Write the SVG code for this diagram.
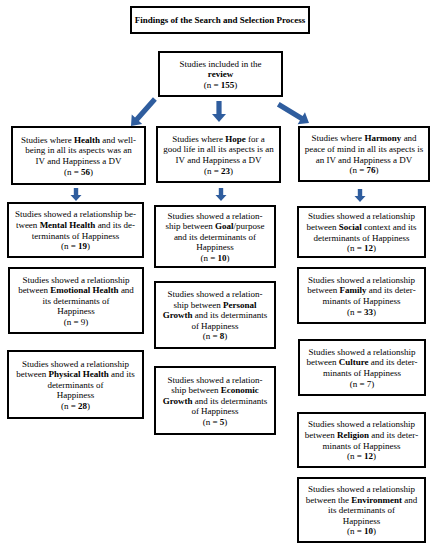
<svg xmlns="http://www.w3.org/2000/svg" width="436" height="550" viewBox="0 0 436 550">
<style>
.box{fill:#fff;stroke:#000;stroke-width:2}
.t{font-family:"Liberation Serif","Times New Roman",serif;font-size:9px;fill:#000;text-anchor:middle}
.b{font-weight:bold}
.arr{fill:#2f5d9e}
</style>
<defs>
<path id="arrBig" d="M-2.6,-36 H2.6 V-9 H7 L0,0 L-7,-9 H-2.6 Z"/>
<path id="arrMid" d="M-2.6,-21 H2.6 V-8 H7 L0,0 L-7,-8 H-2.6 Z"/>
<path id="arrSm" d="M-2.2,-13 H2.2 V-6 H5.5 L0,0 L-5.5,-6 H-2.2 Z"/>
</defs>
<rect width="436" height="550" fill="#fff"/>
<g id="connectors" class="arr">
<use href="#arrBig" transform="translate(131,126) rotate(41.6)"/>
<use href="#arrMid" transform="translate(219,122)"/>
<use href="#arrBig" transform="translate(309,123) rotate(-58.6)"/>
<use href="#arrSm" transform="translate(76,201)"/>
<use href="#arrSm" transform="translate(221,201)"/>
<use href="#arrSm" transform="translate(360,202)"/>
</g>
<g id="title">
<rect class="box" x="131" y="7" width="178" height="26" stroke-width="2.5"/>
<text class="t b" x="220" y="23" font-size="8.5">Findings of the Search and Selection Process</text>
</g>
<g id="review">
<rect class="box" x="159" y="52" width="123" height="44"/>
<text class="t" x="220.5" y="66.6">Studies included in the</text>
<text class="t b" x="220.5" y="77.2">review</text>
<text class="t" x="220.5" y="87.8">(n = <tspan class="b">155</tspan>)</text>
</g>
<g id="health">
<rect class="box" x="12" y="127" width="133" height="57"/>
<text class="t" x="78.5" y="142.8">Studies where <tspan class="b">Health</tspan> and well-</text>
<text class="t" x="78.5" y="153.4">being in all its aspects was an</text>
<text class="t" x="78.5" y="164">IV and Happiness a DV</text>
<text class="t" x="78.5" y="174.6">(n = <tspan class="b">56</tspan>)</text>
</g>
<g id="hope">
<rect class="box" x="157" y="127" width="123" height="55"/>
<text class="t" x="218.5" y="141.8">Studies where <tspan class="b">Hope</tspan> for a</text>
<text class="t" x="218.5" y="152.4">good life in all its aspects is an</text>
<text class="t" x="218.5" y="163">IV and Happiness a DV</text>
<text class="t" x="218.5" y="173.6">(n = <tspan class="b">23</tspan>)</text>
</g>
<g id="harmony">
<rect class="box" x="299" y="127" width="130" height="54"/>
<text class="t" x="364" y="141.3">Studies where <tspan class="b">Harmony</tspan> and</text>
<text class="t" x="364" y="151.9">peace of mind in all its aspects is</text>
<text class="t" x="364" y="162.5">an IV and Happiness a DV</text>
<text class="t" x="364" y="173.1">(n = <tspan class="b">76</tspan>)</text>
</g>
<g id="mental">
<rect class="box" x="8" y="203" width="135" height="54"/>
<text class="t" x="75.5" y="217.3">Studies showed a relationship be-</text>
<text class="t" x="75.5" y="227.9">tween <tspan class="b">Mental Health</tspan> and its de-</text>
<text class="t" x="75.5" y="238.5">terminants of Happiness</text>
<text class="t" x="75.5" y="249.1">(n = <tspan class="b">19</tspan>)</text>
</g>
<g id="emotional">
<rect class="box" x="9" y="268" width="134" height="65"/>
<text class="t" x="76" y="282.5">Studies showed a relationship</text>
<text class="t" x="76" y="293.1">between <tspan class="b">Emotional Health</tspan> and</text>
<text class="t" x="76" y="303.7">its determinants of</text>
<text class="t" x="76" y="314.3">Happiness</text>
<text class="t" x="76" y="324.9">(n = 9)</text>
</g>
<g id="physical">
<rect class="box" x="8" y="351" width="135" height="67"/>
<text class="t" x="75.5" y="366.5">Studies showed a relationship</text>
<text class="t" x="75.5" y="377.1">between <tspan class="b">Physical Health</tspan> and its</text>
<text class="t" x="75.5" y="387.7">determinants of</text>
<text class="t" x="75.5" y="398.3">Happiness</text>
<text class="t" x="75.5" y="408.9">(n = <tspan class="b">28</tspan>)</text>
</g>
<g id="goal">
<rect class="box" x="155" y="206" width="120" height="61"/>
<text class="t" x="215" y="218.5">Studies showed a relation-</text>
<text class="t" x="215" y="229.1">ship between <tspan class="b">Goal</tspan>/purpose</text>
<text class="t" x="215" y="239.7">and its determinants of</text>
<text class="t" x="215" y="250.3">Happiness</text>
<text class="t" x="215" y="260.9">(n = <tspan class="b">10</tspan>)</text>
</g>
<g id="personal">
<rect class="box" x="155" y="282" width="120" height="66"/>
<text class="t" x="215" y="297">Studies showed a relation-</text>
<text class="t" x="215" y="307.6">ship between <tspan class="b">Personal</tspan></text>
<text class="t" x="215" y="318.2"><tspan class="b">Growth</tspan> and its determinants</text>
<text class="t" x="215" y="328.8">of Happiness</text>
<text class="t" x="215" y="339.4">(n = <tspan class="b">8</tspan>)</text>
</g>
<g id="economic">
<rect class="box" x="155" y="367" width="120" height="67"/>
<text class="t" x="215" y="382.5">Studies showed a relation-</text>
<text class="t" x="215" y="393.1">ship between <tspan class="b">Economic</tspan></text>
<text class="t" x="215" y="403.7"><tspan class="b">Growth</tspan> and its determinants</text>
<text class="t" x="215" y="414.3">of Happiness</text>
<text class="t" x="215" y="424.9">(n = <tspan class="b">5</tspan>)</text>
</g>
<g id="social">
<rect class="box" x="298" y="207" width="127" height="50"/>
<text class="t" x="361.5" y="219.3">Studies showed a relationship</text>
<text class="t" x="361.5" y="229.9">between <tspan class="b">Social</tspan> context and its</text>
<text class="t" x="361.5" y="240.5">determinants of Happiness</text>
<text class="t" x="361.5" y="251.1">(n = <tspan class="b">12</tspan>)</text>
</g>
<g id="family">
<rect class="box" x="298" y="268" width="127" height="55"/>
<text class="t" x="361.5" y="282.8">Studies showed a relationship</text>
<text class="t" x="361.5" y="293.4">between <tspan class="b">Family</tspan> and its deter-</text>
<text class="t" x="361.5" y="304">minants of Happiness</text>
<text class="t" x="361.5" y="314.6">(n = <tspan class="b">33</tspan>)</text>
</g>
<g id="culture">
<rect class="box" x="299" y="340" width="126" height="55"/>
<text class="t" x="362" y="354.8">Studies showed a relationship</text>
<text class="t" x="362" y="365.4">between <tspan class="b">Culture</tspan> and its deter-</text>
<text class="t" x="362" y="376">minants of Happiness</text>
<text class="t" x="362" y="386.6">(n = 7)</text>
</g>
<g id="religion">
<rect class="box" x="298" y="413" width="127" height="54"/>
<text class="t" x="361.5" y="427.3">Studies showed a relationship</text>
<text class="t" x="361.5" y="437.9">between <tspan class="b">Religion</tspan> and its deter-</text>
<text class="t" x="361.5" y="448.5">minants of Happiness</text>
<text class="t" x="361.5" y="459.1">(n = <tspan class="b">12</tspan>)</text>
</g>
<g id="environment">
<rect class="box" x="298" y="478" width="127" height="64"/>
<text class="t" x="361.5" y="492">Studies showed a relationship</text>
<text class="t" x="361.5" y="502.6">between the <tspan class="b">Environment</tspan> and</text>
<text class="t" x="361.5" y="513.2">its determinants of</text>
<text class="t" x="361.5" y="523.8">Happiness</text>
<text class="t" x="361.5" y="534.4">(n = <tspan class="b">10</tspan>)</text>
</g>
</svg>
